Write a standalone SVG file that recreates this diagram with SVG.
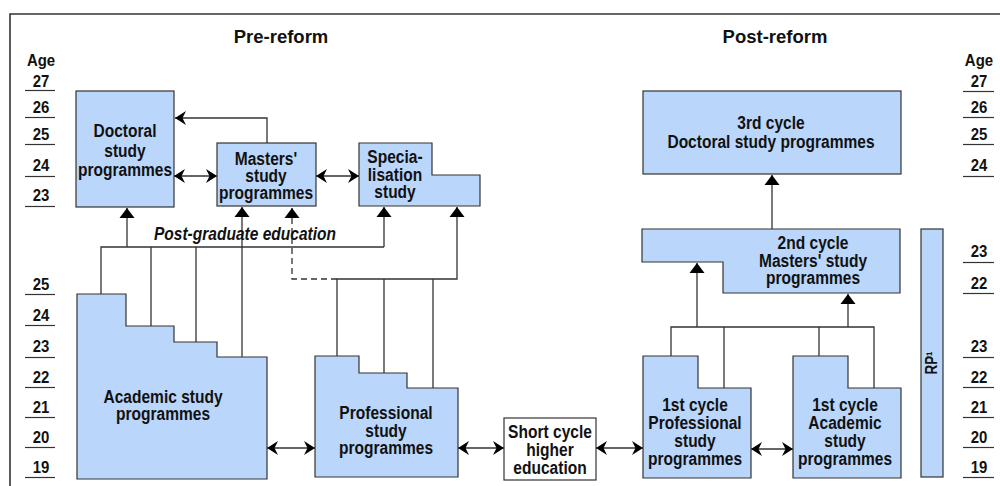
<svg xmlns="http://www.w3.org/2000/svg" width="1000" height="486" viewBox="0 0 1000 486">
<style>
.box{fill:#bad6fb;stroke:#333;stroke-width:1.2}
.wbox{fill:#fff;stroke:#333;stroke-width:1.2}
.t{font-family:"Liberation Sans",Arial,sans-serif;font-weight:bold;font-size:18.5px;fill:#111;text-anchor:middle;transform:scaleX(0.84);transform-box:fill-box;transform-origin:center}
.title{font-family:"Liberation Sans",Arial,sans-serif;font-weight:bold;font-size:18.5px;fill:#111;text-anchor:middle}
.age{font-size:17px;transform:scaleX(0.88)}
.it{font-style:italic}
.ln{stroke:#333;stroke-width:1.3;fill:none}
.ul{stroke:#333;stroke-width:1.2}
.dash{stroke-dasharray:6 4}
</style>
<defs>
<marker id="tri" viewBox="-11 -8 11 16" refX="0" refY="0" markerWidth="11" markerHeight="16" markerUnits="userSpaceOnUse" orient="auto-start-reverse"><path d="M0,0 L-10,-7.5 L-10,7.5 Z" fill="#000"/></marker>
<marker id="st" viewBox="-12 -8 12 16" refX="0" refY="0" markerWidth="12" markerHeight="16" markerUnits="userSpaceOnUse" orient="auto-start-reverse"><path d="M0,0 L-11,-7 L-7.5,0 L-11,7 Z" fill="#000"/></marker>
</defs>
<path d="M10,486 V14 H1000" fill="none" stroke="#333" stroke-width="1.6"/>
<text class="title" x="281" y="43">Pre-reform</text>
<text class="title" x="775" y="43">Post-reform</text>
<g id="ages-left">
<text class="t age" x="41" y="66">Age</text>
<text class="t age" x="41" y="87">27</text><line class="ul" x1="25" y1="90.5" x2="55" y2="90.5"/>
<text class="t age" x="41" y="113">26</text><line class="ul" x1="25" y1="117.5" x2="55" y2="117.5"/>
<text class="t age" x="41" y="140">25</text><line class="ul" x1="25" y1="144.5" x2="55" y2="144.5"/>
<text class="t age" x="41" y="171">24</text><line class="ul" x1="25" y1="176.5" x2="55" y2="176.5"/>
<text class="t age" x="41" y="201">23</text><line class="ul" x1="25" y1="206.5" x2="55" y2="206.5"/>
<text class="t age" x="41" y="290">25</text><line class="ul" x1="25" y1="294.5" x2="55" y2="294.5"/>
<text class="t age" x="41" y="321">24</text><line class="ul" x1="25" y1="325.5" x2="55" y2="325.5"/>
<text class="t age" x="41" y="352">23</text><line class="ul" x1="25" y1="357.5" x2="55" y2="357.5"/>
<text class="t age" x="41" y="383">22</text><line class="ul" x1="25" y1="387.5" x2="55" y2="387.5"/>
<text class="t age" x="41" y="413">21</text><line class="ul" x1="25" y1="417.5" x2="55" y2="417.5"/>
<text class="t age" x="41" y="443">20</text><line class="ul" x1="25" y1="447.5" x2="55" y2="447.5"/>
<text class="t age" x="41" y="473">19</text><line class="ul" x1="25" y1="477.5" x2="55" y2="477.5"/>
</g>
<g id="ages-right">
<text class="t age" x="979" y="66">Age</text>
<text class="t age" x="979" y="87">27</text><line class="ul" x1="963" y1="91.5" x2="994" y2="91.5"/>
<text class="t age" x="979" y="113">26</text><line class="ul" x1="963" y1="117.5" x2="994" y2="117.5"/>
<text class="t age" x="979" y="140">25</text><line class="ul" x1="963" y1="144.5" x2="994" y2="144.5"/>
<text class="t age" x="979" y="171">24</text><line class="ul" x1="963" y1="176.5" x2="994" y2="176.5"/>
<text class="t age" x="979" y="257">23</text><line class="ul" x1="963" y1="262.5" x2="994" y2="262.5"/>
<text class="t age" x="979" y="289">22</text><line class="ul" x1="963" y1="293.5" x2="994" y2="293.5"/>
<text class="t age" x="979" y="352">23</text><line class="ul" x1="963" y1="357.5" x2="994" y2="357.5"/>
<text class="t age" x="979" y="383">22</text><line class="ul" x1="963" y1="387.5" x2="994" y2="387.5"/>
<text class="t age" x="979" y="413">21</text><line class="ul" x1="963" y1="417.5" x2="994" y2="417.5"/>
<text class="t age" x="979" y="443">20</text><line class="ul" x1="963" y1="447.5" x2="994" y2="447.5"/>
<text class="t age" x="979" y="473">19</text><line class="ul" x1="963" y1="477.5" x2="994" y2="477.5"/>
</g>
<g id="connectors">
<line class="ln" x1="174" y1="176" x2="217" y2="176" marker-start="url(#st)" marker-end="url(#st)"/>
<line class="ln" x1="316" y1="176" x2="359" y2="176" marker-start="url(#st)" marker-end="url(#st)"/>
<path class="ln" d="M267,143 V118 H175" marker-end="url(#st)"/>
<path class="ln" d="M101,294 V247 H384"/>
<line class="ln" x1="127" y1="247" x2="127" y2="208" marker-end="url(#tri)"/>
<line class="ln" x1="384" y1="247" x2="384" y2="207" marker-end="url(#tri)"/>
<line class="ln" x1="151" y1="247" x2="151" y2="326"/>
<line class="ln" x1="196" y1="247" x2="196" y2="342"/>
<line class="ln" x1="242" y1="357" x2="242" y2="207" marker-end="url(#tri)"/>
<path class="ln dash" d="M337,279 H292 V208" marker-end="url(#tri)"/>
<path class="ln" d="M337,356 V279 H457 V207" marker-end="url(#tri)"/>
<line class="ln" x1="384" y1="279" x2="384" y2="373"/>
<line class="ln" x1="433" y1="279" x2="433" y2="388"/>
<line class="ln" x1="267" y1="448" x2="315" y2="448" marker-start="url(#st)" marker-end="url(#st)"/>
<line class="ln" x1="458" y1="448" x2="504" y2="448" marker-start="url(#st)" marker-end="url(#st)"/>
<line class="ln" x1="596" y1="448" x2="643" y2="448" marker-start="url(#st)" marker-end="url(#st)"/>
<line class="ln" x1="751" y1="449" x2="793" y2="449" marker-start="url(#st)" marker-end="url(#st)"/>
<path class="ln" d="M671,356 V327 H874 V388"/>
<line class="ln" x1="724" y1="327" x2="724" y2="388"/>
<line class="ln" x1="819" y1="327" x2="819" y2="356"/>
<line class="ln" x1="697" y1="327" x2="697" y2="263" marker-end="url(#tri)"/>
<line class="ln" x1="848" y1="327" x2="848" y2="294" marker-end="url(#tri)"/>
<line class="ln" x1="772" y1="229" x2="772" y2="175" marker-end="url(#tri)"/>
</g>
<g id="doctoral-pre">
<rect class="box" x="76" y="91" width="98" height="116"/>
<text class="t" x="125" y="137">Doctoral</text>
<text class="t" x="125" y="157">study</text>
<text class="t" x="125" y="176">programmes</text>
</g>
<g id="masters-pre">
<rect class="box" x="217" y="143" width="99" height="63"/>
<text class="t" x="266" y="165">Masters'</text>
<text class="t" x="266" y="182">study</text>
<text class="t" x="266" y="199">programmes</text>
</g>
<g id="specialisation">
<path class="box" d="M359,143 H432 V175 H480 V206 H359 Z"/>
<text class="t" x="395" y="163">Specia-</text>
<text class="t" x="395" y="181">lisation</text>
<text class="t" x="395" y="198">study</text>
</g>
<text class="t it" x="245" y="240">Post-graduate education</text>
<g id="academic-pre">
<path class="box" d="M77,294 H126 V326 H174 V342 H217 V357 H267 V479 H77 Z"/>
<text class="t" x="163" y="403">Academic study</text>
<text class="t" x="163" y="420">programmes</text>
</g>
<g id="professional-pre">
<path class="box" d="M315,356 H359 V373 H407 V388 H458 V477 H315 Z"/>
<text class="t" x="386" y="419">Professional</text>
<text class="t" x="386" y="437">study</text>
<text class="t" x="386" y="454">programmes</text>
</g>
<g id="short-cycle">
<rect class="wbox" x="504" y="418" width="92" height="62"/>
<text class="t" x="550" y="438">Short cycle</text>
<text class="t" x="550" y="456">higher</text>
<text class="t" x="550" y="474">education</text>
</g>
<g id="first-professional">
<path class="box" d="M643,356 H698 V388 H751 V478 H643 Z"/>
<text class="t" x="695" y="411">1st cycle</text>
<text class="t" x="695" y="429">Professional</text>
<text class="t" x="695" y="447">study</text>
<text class="t" x="695" y="465">programmes</text>
</g>
<g id="first-academic">
<path class="box" d="M793,356 H848 V388 H901 V478 H793 Z"/>
<text class="t" x="845" y="411">1st cycle</text>
<text class="t" x="845" y="429">Academic</text>
<text class="t" x="845" y="447">study</text>
<text class="t" x="845" y="465">programmes</text>
</g>
<g id="second-cycle">
<path class="box" d="M642,229 H900 V293 H723 V262 H642 Z"/>
<text class="t" x="813" y="249">2nd cycle</text>
<text class="t" x="813" y="267">Masters' study</text>
<text class="t" x="813" y="284">programmes</text>
</g>
<g id="third-cycle">
<rect class="box" x="643" y="91" width="258" height="83"/>
<text class="t" x="771" y="129">3rd cycle</text>
<text class="t" x="771" y="148">Doctoral study programmes</text>
</g>
<g id="rp">
<rect class="box" x="921" y="229" width="22" height="248"/>
<g transform="rotate(-90 937 363)"><text class="t" x="937" y="363" style="font-size:16px">RP¹</text></g>
</g>
</svg>
